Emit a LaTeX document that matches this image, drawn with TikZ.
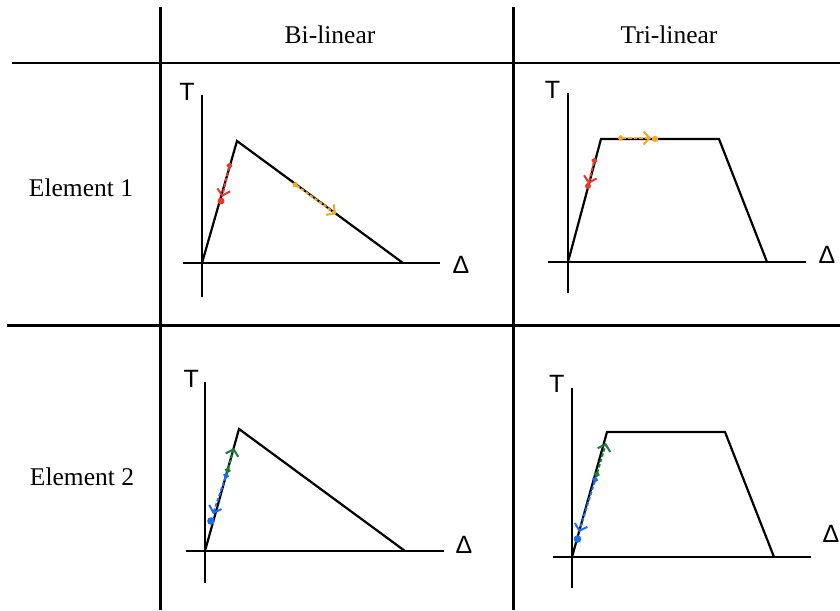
\documentclass[tikz,border=0pt]{standalone}
\usepackage{fontspec}
\setmainfont{Liberation Serif}
\newfontfamily\axisfont{Liberation Sans}
\usetikzlibrary{arrows.meta}
\definecolor{softred}{HTML}{E8392E}
\definecolor{amber}{HTML}{F5A623}
\definecolor{pine}{HTML}{1E7B3C}
\definecolor{azure}{HTML}{1A6FF0}

\begin{document}
\begin{tikzpicture}[x=1pt,y=-1pt,
  rule/.style={line width=2.2pt,black},
  law/.style={line width=2.2pt,black},
  head/.style={font=\fontsize{25.5}{30}\selectfont,anchor=base,inner sep=0pt},
  lbl/.style={font=\axisfont\fontsize{25}{30}\selectfont,anchor=base,inner sep=0pt},
  mv/.style={dash pattern=on 3.5pt off 2pt,line width=2pt,
             {Circle[length=5.5pt]}-{Straight Barb[length=6pt,width=13pt,line width=2pt]}}]
  \useasboundingbox (0,0) rectangle (840,610);
  % table
  \coordinate (vtop1) at (160.5,7); \coordinate (vbot1) at (160.5,610);
  \coordinate (vtop2) at (513.5,7); \coordinate (vbot2) at (513.5,610);
  \coordinate (hl1) at (12,63);   \coordinate (hr1) at (840,63);
  \coordinate (hl2) at (7,325.5); \coordinate (hr2) at (840,325.5);
  \draw[rule] (vtop1) -- (vbot1); \draw[rule] (vtop2) -- (vbot2);
  \draw[rule] (hl1) -- (hr1); \draw[rule] (hl2) -- (hr2);
  \node[head] (bi) at (330,43.3) {Bi-linear};
  \node[head] (tri) at (669,43.3) {Tri-linear};
  \node[head] (el1) at (81,196.7) {Element 1};
  \node[head] (el2) at (82,485.5) {Element 2};

  % element 1, bi-linear
  \node[lbl] (t1) at (187,100) {T};
  \node[lbl] (d1) at (461,273) {Δ};
  \draw[law] (202,95) -- (202,297); \draw[law] (183,263) -- (440,263);
  \coordinate (o1) at (202,263); \coordinate (p1) at (237,141); \coordinate (e1) at (403,263);
  \draw[law] (o1) -- (p1) -- (e1);
  \coordinate (r1a) at (230,163); \coordinate (r1b) at (222,197);
  \coordinate (a1a) at (293,183); \coordinate (a1b) at (336,214);
  \draw[mv,softred] (r1a) -- (r1b); \fill[softred] (221,201) circle (3.5pt);
  \draw[mv,amber] (a1a) -- (a1b);

  % element 1, tri-linear
  \node[lbl] (t2) at (552.5,98.3) {T};
  \node[lbl] (d2) at (827,263.3) {Δ};
  \draw[law] (568,93) -- (568,293); \draw[law] (548,262) -- (806,262);
  \coordinate (o2) at (568,262); \coordinate (p2) at (601,139);
  \coordinate (q2) at (719,139); \coordinate (e2) at (767,262);
  \draw[law] (o2) -- (p2) -- (q2) -- (e2);
  \coordinate (r2a) at (595,158); \coordinate (r2b) at (588.5,184);
  \coordinate (a2a) at (618,138); \coordinate (a2b) at (651,138);
  \draw[mv,softred] (r2a) -- (r2b); \fill[softred] (588,186) circle (3pt);
  \draw[mv,amber] (a2a) -- (a2b); \fill[amber] (655,139) circle (3.2pt);

  % element 2, bi-linear
  \node[lbl] (t3) at (191.3,387.3) {T};
  \node[lbl] (d3) at (464,553) {Δ};
  \draw[law] (205,382) -- (205,583); \draw[law] (186,551) -- (444,551);
  \coordinate (o3) at (205,551); \coordinate (p3) at (239,429); \coordinate (e3) at (405,551);
  \draw[law] (o3) -- (p3) -- (e3);
  \coordinate (g3a) at (227,473); \coordinate (g3b) at (234,448);
  \coordinate (b3b) at (213,514);
  \draw[mv,pine] (g3a) -- (g3b);
  \draw[mv,azure] (g3a) -- (b3b); \fill[azure] (211,521) circle (3.8pt);

  % element 2, tri-linear
  \node[lbl] (t4) at (556.7,392.7) {T};
  \node[lbl] (d4) at (831,542.7) {Δ};
  \draw[law] (572,388) -- (572,588); \draw[law] (553,557) -- (811,557);
  \coordinate (o4) at (572,557); \coordinate (p4) at (607,432);
  \coordinate (q4) at (725,432); \coordinate (e4) at (774,557);
  \draw[law] (o4) -- (p4) -- (q4) -- (e4);
  \coordinate (g4a) at (596,477); \coordinate (g4b) at (606,443);
  \coordinate (b4b) at (579,532);
  \draw[mv,pine] (g4a) -- (g4b);
  \draw[mv,azure] (g4a) -- (b4b); \fill[azure] (577.5,539) circle (3.8pt);
\end{tikzpicture}
\end{document}
